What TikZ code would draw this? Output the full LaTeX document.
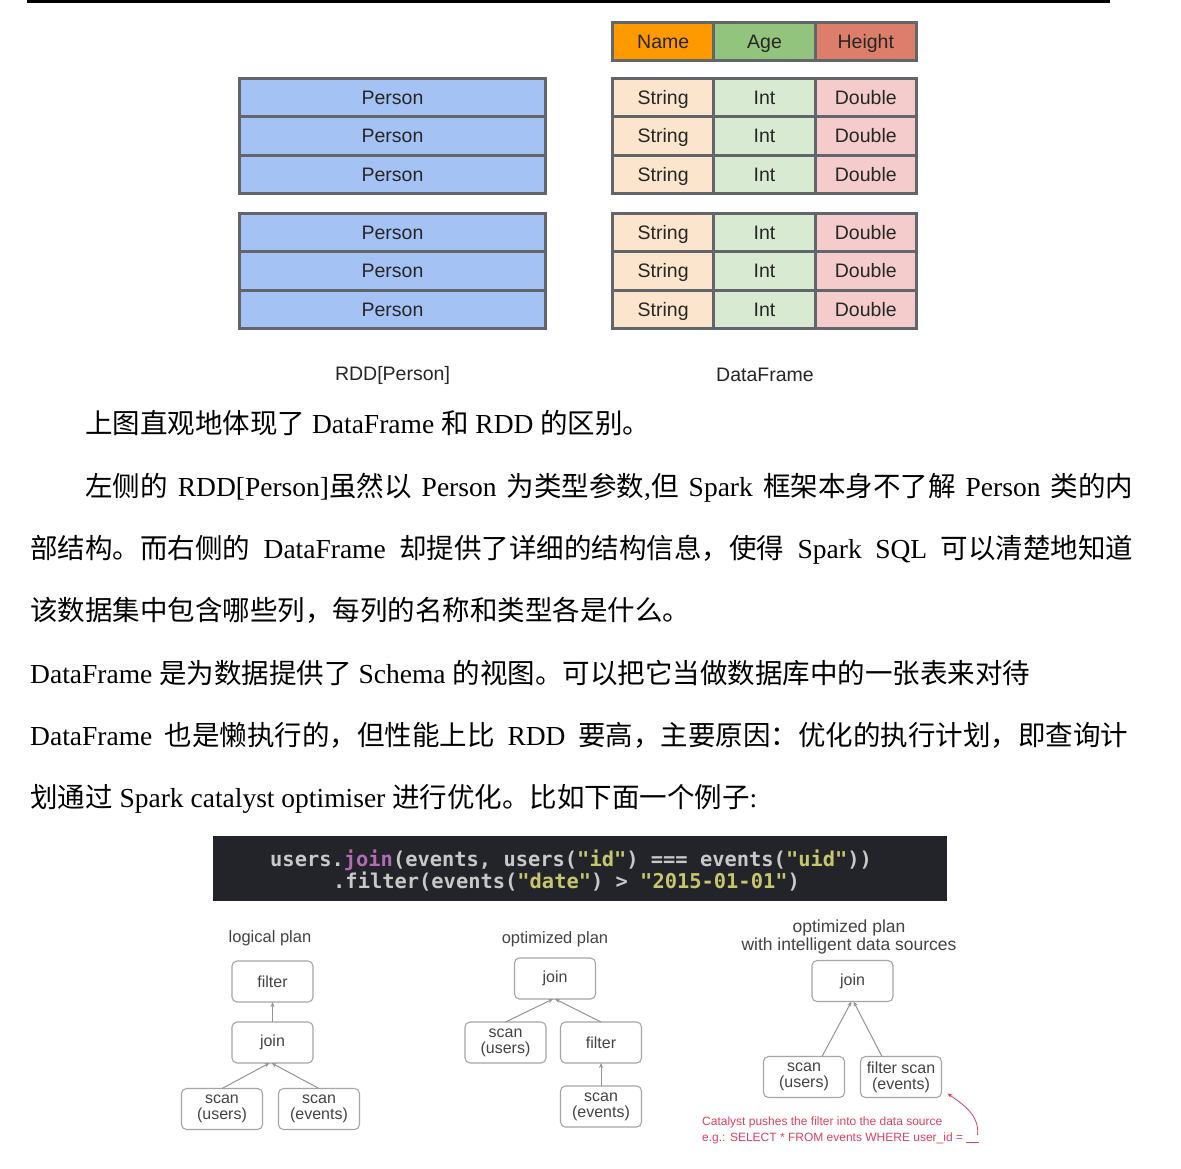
\documentclass[tikz,border=0pt]{standalone}
\usepackage{fontspec}
\setmainfont{Liberation Serif}
\setsansfont{Liberation Sans}
\setmonofont{DejaVu Sans Mono}
\newfontfamily\cjk{Noto Sans CJK SC}
\usetikzlibrary{arrows.meta, positioning}
\XeTeXlinebreaklocale "zh"
\XeTeXlinebreakskip=0pt plus 3pt

\definecolor{rddblue}{RGB}{164,194,244}
\definecolor{cellgray}{RGB}{98,101,106}
\definecolor{headname}{RGB}{255,153,0}
\definecolor{headage}{RGB}{147,196,125}
\definecolor{headheight}{RGB}{221,126,107}
\definecolor{cellstr}{RGB}{252,229,205}
\definecolor{cellint}{RGB}{217,234,211}
\definecolor{celldbl}{RGB}{244,204,204}
\definecolor{codebg}{RGB}{35,36,41}
\definecolor{codetxt}{RGB}{200,200,200}
\definecolor{codekey}{RGB}{176,108,180}
\definecolor{codestr}{RGB}{198,199,108}
\definecolor{planline}{RGB}{165,165,165}
\definecolor{plantxt}{RGB}{68,68,68}
\definecolor{catred}{RGB}{226,64,96}

\newcommand{\zh}[1]{{\cjk #1}}
\newcommand{\paratext}{\fontsize{27.5}{30}\selectfont}

\tikzset{
    >=Latex,
    font=\sffamily,
    node distance=0pt,
    rdd_row/.style={
        rectangle,
        draw=cellgray,
        fill=rddblue,
        line width=3pt,
        outer sep=0pt,
        inner sep=0pt,
        minimum width=306pt,
        minimum height=38.4pt,
        text height=14pt,
        text depth=1pt,
        text=black!85,
        font=\sffamily\fontsize{19.5}{22}\selectfont
    },
    df_cell/.style={
        rectangle,
        draw=cellgray,
        line width=3pt,
        outer sep=0pt,
        inner sep=0pt,
        minimum width=101.3pt,
        minimum height=38.4pt,
        text height=14pt,
        text depth=1pt,
        text=black!85,
        font=\sffamily\fontsize{19.5}{22}\selectfont
    },
    df_head/.style={df_cell, minimum height=38pt},
    df_str/.style={df_cell, fill=cellstr},
    df_int/.style={df_cell, fill=cellint},
    df_dbl/.style={df_cell, fill=celldbl},
    df_label/.style={
        text=black!85,
        font=\sffamily\fontsize{19.5}{22}\selectfont
    },
    para_line/.style={
        anchor=base west,
        inner sep=0pt,
        font=\rmfamily\paratext
    },
    code_bg/.style={
        rectangle,
        fill=codebg,
        inner sep=0pt,
        minimum width=734pt,
        minimum height=65pt
    },
    code_line/.style={
        anchor=base west,
        inner sep=0pt,
        text=codetxt,
        font=\ttfamily\bfseries\fontsize{20.4}{22}\selectfont
    },
    plan_title/.style={
        align=center,
        text=plantxt,
        inner sep=0pt,
        font=\sffamily\fontsize{16.5}{14}\selectfont
    },
    plan_box/.style={
        rectangle,
        rounded corners=5pt,
        draw=planline,
        fill=white,
        line width=1.1pt,
        outer sep=0pt,
        minimum width=81pt,
        minimum height=41pt,
        align=center,
        text=plantxt,
        font=\sffamily\fontsize{16}{16}\selectfont
    },
    plan_arrow/.style={
        -{Stealth[length=5pt, width=4pt]},
        draw=planline!90!black,
        line width=1pt
    },
    cat_note/.style={
        anchor=west,
        inner sep=0pt,
        text=catred,
        font=\sffamily\fontsize{12}{13}\selectfont
    },
    cat_arrow/.style={
        -{Stealth[length=5pt, width=4pt]},
        draw=catred,
        line width=0.8pt
    }
}

\begin{document}
\begin{tikzpicture}[x=1pt, y=-1pt]

\fill[white] (0,0) rectangle (1181,1168);
\useasboundingbox (0,0) rectangle (1181,1168);
\draw[line width=3pt] (27,1.5) -- (1110,1.5);

% --- DataFrame header ---
\node[df_head, fill=headname] (hName) at (663.2,41.5) {Name};
\node[df_head, fill=headage, right=of hName] (hAge) {Age};
\node[df_head, fill=headheight, right=of hAge] (hHeight) {Height};

% --- Rows: RDD[Person] and DataFrame ---
\foreach \r/\y in {1/97.7, 2/136.1, 3/174.5, 4/232.7, 5/271.1, 6/309.5} {
    \node[rdd_row] (rdd\r) at (392.5,\y) {Person};
    \node[df_str] (str\r) at (663.2,\y) {String};
    \node[df_int, right=of str\r] (int\r) {Int};
    \node[df_dbl, right=of int\r] (dbl\r) {Double};
}

\node[df_label] (rddLabel) at (392.5,375) {RDD[Person]};
\node[df_label] (dfLabel) at (765,375) {DataFrame};

% --- Text ---
\node[para_line] (line1) at (85,433) {\zh{上图直观地体现了} DataFrame \zh{和} RDD \zh{的区别。}};
\node[para_line] (line2) at (85,496) {\makebox[1048pt][s]{\zh{左侧的} RDD[Person]\zh{虽然以} Person \zh{为类型参数},\zh{但} Spark \zh{框架本身不了解} Person \zh{类的内}}};
\node[para_line] (line3) at (30,558) {\makebox[1103pt][s]{\zh{部结构。而右侧的} DataFrame \zh{却提供了详细的结构信息，使得} Spark SQL \zh{可以清楚地知道}}};
\node[para_line] (line4) at (30,620) {\zh{该数据集中包含哪些列，每列的名称和类型各是什么。}};
\node[para_line] (line5) at (30,683) {DataFrame \zh{是为数据提供了} Schema \zh{的视图。可以把它当做数据库中的一张表来对待}};
\node[para_line] (line6) at (30,745) {\makebox[1098pt][s]{DataFrame \zh{也是懒执行的，但性能上比} RDD \zh{要高，主要原因：优化的执行计划，即查询计}}};
\node[para_line] (line7) at (30,807) {\zh{划通过} Spark catalyst optimiser \zh{进行优化。比如下面一个例子}:};

% --- Code ---
\node[code_bg] (codeBg) at (580,868.5) {};
\node[code_line] (code1) at (270,866) {users.\textcolor{codekey}{join}(events, users(\textcolor{codestr}{"id"}) === events(\textcolor{codestr}{"uid"}))};
\node[code_line] (code2) at (333,888) {.filter(events(\textcolor{codestr}{"date"}) > \textcolor{codestr}{"2015-01-01"})};

% --- Logical plan ---
\node[plan_title] (lpTitle) at (270,938) {logical plan};
\node[plan_box] (lpFilter) at (272.5,981.5) {filter};
\node[plan_box, below=20pt of lpFilter] (lpJoin) {join};
\node[plan_box] (lpUsers) at (222,1109) {scan\\(users)};
\node[plan_box] (lpEvents) at (319,1109) {scan\\(events)};

% --- Optimized plan ---
\node[plan_title] (opTitle) at (555,939) {optimized plan};
\node[plan_box] (opJoin) at (555,978.5) {join};
\node[plan_box] (opUsers) at (505.5,1042.5) {scan\\(users)};
\node[plan_box] (opFilter) at (601,1042.5) {filter};
\node[plan_box, below=23pt of opFilter] (opEvents) {scan\\(events)};

% --- Optimized plan with data sources ---
\node[plan_title, font=\sffamily\fontsize{17.5}{14}\selectfont] (ipTitle) at (849,937) {optimized plan\\with intelligent data sources};
\node[plan_box] (ipJoin) at (852.5,981) {join};
\node[plan_box] (ipUsers) at (804,1077) {scan\\(users)};
\node[plan_box] (ipScan) at (901,1077) {filter scan\\(events)};
\node[cat_note] (cat1) at (702,1122) {Catalyst pushes the filter into the data source};
\node[cat_note] (cat2) at (702,1138) {e.g.: SELECT * FROM events WHERE user\_id = \rule[-1.5pt]{13pt}{0.8pt}};

% --- Edges ---
\draw[plan_arrow] (lpJoin) -- (lpFilter);
\draw[plan_arrow] (lpUsers.north) -- ([xshift=-3pt]lpJoin.south);
\draw[plan_arrow] (lpEvents.north) -- ([xshift=-1pt]lpJoin.south);

\draw[plan_arrow] (opUsers.north) -- ([xshift=-2pt]opJoin.south);
\draw[plan_arrow] (opFilter.north) -- (opJoin.south);
\draw[plan_arrow] (opEvents) -- (opFilter);

\draw[plan_arrow] ([xshift=18pt]ipUsers.north) -- ([xshift=-1pt]ipJoin.south);
\draw[plan_arrow] ([xshift=-19pt]ipScan.north) -- ([xshift=1pt]ipJoin.south);

\draw[cat_arrow] ([xshift=-2pt, yshift=3pt]cat2.east) to[out=85, in=-35] ([xshift=6pt, yshift=4pt]ipScan.south east);

\end{tikzpicture}
\end{document}
